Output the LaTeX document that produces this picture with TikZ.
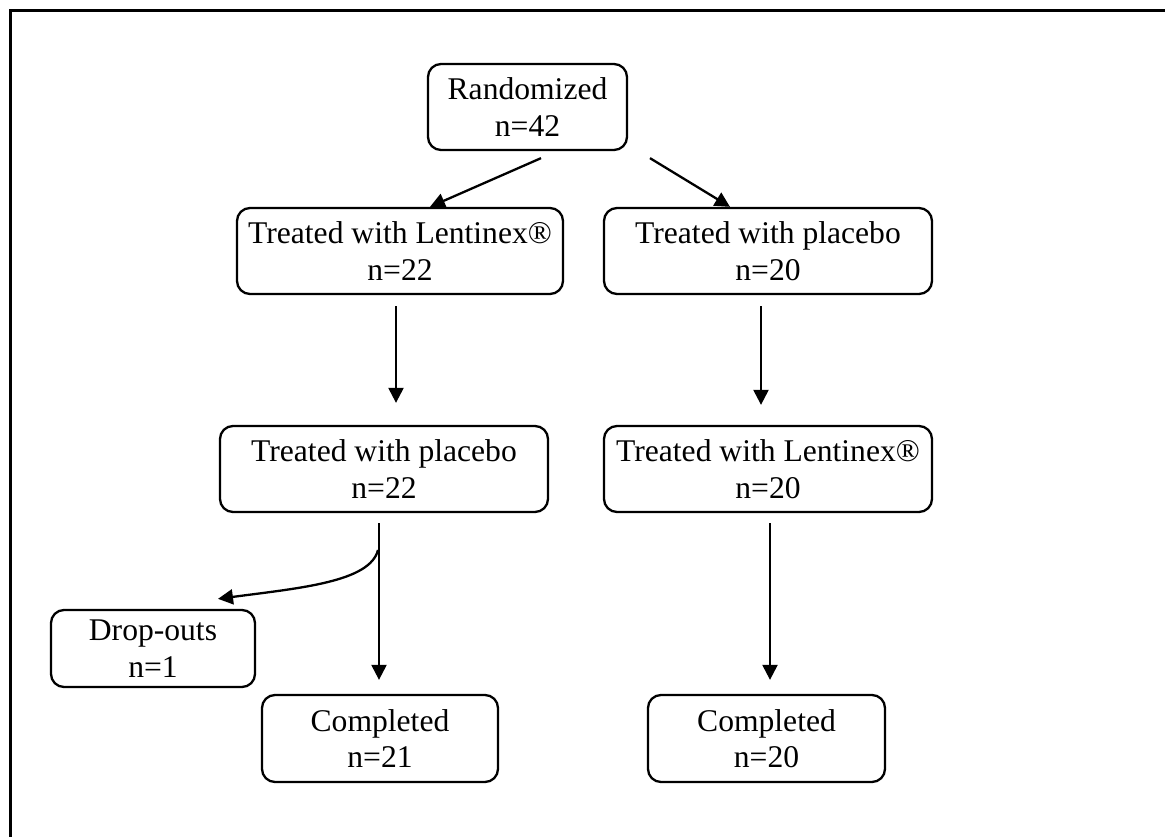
\documentclass[tikz,border=0pt]{standalone}
\usepackage{fontspec}
\setmainfont{Liberation Serif}
\usepackage{tikz}
\usetikzlibrary{arrows.meta}

\tikzset{
	box/.style={shape=rectangle,draw=black,line width=2.3pt,rounded corners=13pt,
		align=center,inner sep=0pt,
		font=\fontsize{31.6}{36.5}\selectfont},
	arr/.style={line width=2.3pt,-{Triangle[length=15pt,width=15pt]}}
}

\begin{document}
\begin{tikzpicture}[x=1pt,y=-1pt]
	\useasboundingbox (0,0) rectangle (1165,837);
	% frame (only top and left edges show)
	\draw[line width=3pt] (10.5,837) -- (10.5,10.5) -- (1165,10.5);

	\node[box,minimum width=199pt,minimum height=86pt] (rand)  at (527.5, 107)   {Randomized\\n=42};
	\node[box,minimum width=326pt,minimum height=86pt] (leftA) at (400, 251)     {Treated with Lentinex®\\n=22};
	\node[box,minimum width=328pt,minimum height=86pt] (rightA) at (768, 251)    {Treated with placebo\\n=20};
	\node[box,minimum width=328pt,minimum height=86pt] (leftB) at (384, 469)     {Treated with placebo\\n=22};
	\node[box,minimum width=328pt,minimum height=86pt] (rightB) at (768, 469)    {Treated with Lentinex®\\n=20};
	\node[box,minimum width=204pt,minimum height=77pt] (drop)  at (153, 648.5)   {Drop-outs\\n=1};
	\node[box,minimum width=236pt,minimum height=87pt] (doneL) at (380, 738.5)   {Completed\\n=21};
	\node[box,minimum width=237pt,minimum height=87pt] (doneR) at (766.5, 738.5) {Completed\\n=20};

	\coordinate (branch) at (378, 550);

	\draw[arr] ([xshift=13.5pt,yshift=-7pt]rand.south) -- ([xshift=30pt]leftA.north);
	\draw[arr] ([xshift=122.5pt,yshift=-7pt]rand.south) -- ([xshift=-38pt]rightA.north);
	\draw[arr] ([xshift=-4pt,yshift=-11pt]leftA.south) -- ([xshift=-4pt,yshift=22pt]leftA.south |- leftB.north);
	\draw[arr] ([xshift=-7pt,yshift=-11pt]rightA.south) -- ([xshift=-7pt,yshift=20pt]rightA.south |- rightB.north);
	\draw[arr] ([xshift=-5pt,yshift=-10pt]leftB.south) -- ([xshift=-5pt,yshift=14pt]leftB.south |- doneL.north);
	\draw[arr] ([xshift=2pt,yshift=-10pt]rightB.south) -- ([xshift=2pt,yshift=14pt]rightB.south |- doneR.north);
	\draw[arr] (branch) .. controls (370, 582) and (300, 588) .. ([xshift=65pt,yshift=10pt]drop.north);
\end{tikzpicture}
\end{document}
